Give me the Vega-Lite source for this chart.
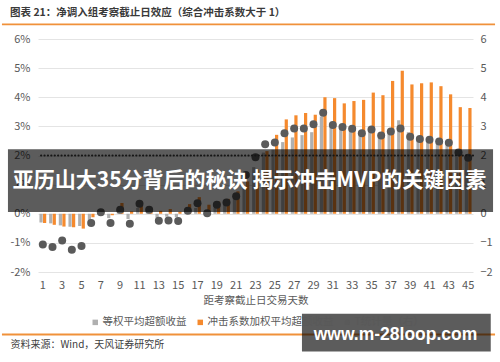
{
  "$schema": "https://vega.github.io/schema/vega-lite/v6.json",
  "width": 435,
  "height": 233,
  "autosize": {"type": "none"},
  "padding": {"left": 38, "top": 39, "right": 27, "bottom": 90},
  "background": "white",
  "config": {"font": "Noto Sans CJK SC", "view": {"stroke": null}},
  "title": {
    "text": "图表 21：净调入组考察截止日效应（综合冲击系数大于 1）",
    "anchor": "start",
    "frame": "group",
    "dx": -28,
    "offset": 5,
    "fontSize": 10.5,
    "fontWeight": "bold",
    "color": "#3a3a3a"
  },
  "data": {
    "values": [
      {"d":1,"s":"等权平均超额收益","v":-0.30},{"d":2,"s":"等权平均超额收益","v":-0.33},{"d":3,"s":"等权平均超额收益","v":-0.40},{"d":4,"s":"等权平均超额收益","v":-0.45},{"d":5,"s":"等权平均超额收益","v":-0.42},
      {"d":6,"s":"等权平均超额收益","v":-0.30},{"d":7,"s":"等权平均超额收益","v":0.02},{"d":8,"s":"等权平均超额收益","v":-0.15},{"d":9,"s":"等权平均超额收益","v":0.15},{"d":10,"s":"等权平均超额收益","v":-0.18},
      {"d":11,"s":"等权平均超额收益","v":0.20},{"d":12,"s":"等权平均超额收益","v":0.10},{"d":13,"s":"等权平均超额收益","v":-0.14},{"d":14,"s":"等权平均超额收益","v":-0.10},{"d":15,"s":"等权平均超额收益","v":-0.12},
      {"d":16,"s":"等权平均超额收益","v":0.05},{"d":17,"s":"等权平均超额收益","v":0.20},{"d":18,"s":"等权平均超额收益","v":-0.05},{"d":19,"s":"等权平均超额收益","v":0.20},{"d":20,"s":"等权平均超额收益","v":0.30},
      {"d":21,"s":"等权平均超额收益","v":0.50},{"d":22,"s":"等权平均超额收益","v":0.95},{"d":23,"s":"等权平均超额收益","v":1.60},{"d":24,"s":"等权平均超额收益","v":2.10},{"d":25,"s":"等权平均超额收益","v":2.20},
      {"d":26,"s":"等权平均超额收益","v":2.46},{"d":27,"s":"等权平均超额收益","v":2.62},{"d":28,"s":"等权平均超额收益","v":2.70},{"d":29,"s":"等权平均超额收益","v":2.80},{"d":30,"s":"等权平均超额收益","v":3.34},
      {"d":31,"s":"等权平均超额收益","v":3.00},{"d":32,"s":"等权平均超额收益","v":2.95},{"d":33,"s":"等权平均超额收益","v":2.85},{"d":34,"s":"等权平均超额收益","v":2.70},{"d":35,"s":"等权平均超额收益","v":2.80},
      {"d":36,"s":"等权平均超额收益","v":2.60},{"d":37,"s":"等权平均超额收益","v":2.84},{"d":38,"s":"等权平均超额收益","v":3.21},{"d":39,"s":"等权平均超额收益","v":2.80},{"d":40,"s":"等权平均超额收益","v":2.50},
      {"d":41,"s":"等权平均超额收益","v":2.45},{"d":42,"s":"等权平均超额收益","v":2.42},{"d":43,"s":"等权平均超额收益","v":2.35},{"d":44,"s":"等权平均超额收益","v":1.95},{"d":45,"s":"等权平均超额收益","v":1.85},

      {"d":1,"s":"冲击系数加权平均超额收益","v":-0.32},{"d":2,"s":"冲击系数加权平均超额收益","v":-0.38},{"d":3,"s":"冲击系数加权平均超额收益","v":-0.44},{"d":4,"s":"冲击系数加权平均超额收益","v":-0.46},{"d":5,"s":"冲击系数加权平均超额收益","v":-0.51},
      {"d":6,"s":"冲击系数加权平均超额收益","v":-0.12},{"d":7,"s":"冲击系数加权平均超额收益","v":0.04},{"d":8,"s":"冲击系数加权平均超额收益","v":-0.05},{"d":9,"s":"冲击系数加权平均超额收益","v":0.37},{"d":10,"s":"冲击系数加权平均超额收益","v":0.08},
      {"d":11,"s":"冲击系数加权平均超额收益","v":0.42},{"d":12,"s":"冲击系数加权平均超额收益","v":0.14},{"d":13,"s":"冲击系数加权平均超额收益","v":0.10},{"d":14,"s":"冲击系数加权平均超额收益","v":0.16},{"d":15,"s":"冲击系数加权平均超额收益","v":0.07},
      {"d":16,"s":"冲击系数加权平均超额收益","v":0.33},{"d":17,"s":"冲击系数加权平均超额收益","v":0.57},{"d":18,"s":"冲击系数加权平均超额收益","v":0.31},{"d":19,"s":"冲击系数加权平均超额收益","v":0.42},{"d":20,"s":"冲击系数加权平均超额收益","v":0.51},
      {"d":21,"s":"冲击系数加权平均超额收益","v":0.77},{"d":22,"s":"冲击系数加权平均超额收益","v":1.11},{"d":23,"s":"冲击系数加权平均超额收益","v":1.52},{"d":24,"s":"冲击系数加权平均超额收益","v":2.15},{"d":25,"s":"冲击系数加权平均超额收益","v":2.71},
      {"d":26,"s":"冲击系数加权平均超额收益","v":3.24},{"d":27,"s":"冲击系数加权平均超额收益","v":3.38},{"d":28,"s":"冲击系数加权平均超额收益","v":3.46},{"d":29,"s":"冲击系数加权平均超额收益","v":3.40},{"d":30,"s":"冲击系数加权平均超额收益","v":4.00},
      {"d":31,"s":"冲击系数加权平均超额收益","v":3.97},{"d":32,"s":"冲击系数加权平均超额收益","v":3.79},{"d":33,"s":"冲击系数加权平均超额收益","v":3.87},{"d":34,"s":"冲击系数加权平均超额收益","v":3.91},{"d":35,"s":"冲击系数加权平均超额收益","v":4.16},
      {"d":36,"s":"冲击系数加权平均超额收益","v":4.07},{"d":37,"s":"冲击系数加权平均超额收益","v":4.56},{"d":38,"s":"冲击系数加权平均超额收益","v":4.91},{"d":39,"s":"冲击系数加权平均超额收益","v":4.44},{"d":40,"s":"冲击系数加权平均超额收益","v":4.48},
      {"d":41,"s":"冲击系数加权平均超额收益","v":4.51},{"d":42,"s":"冲击系数加权平均超额收益","v":4.38},{"d":43,"s":"冲击系数加权平均超额收益","v":4.10},{"d":44,"s":"冲击系数加权平均超额收益","v":3.66},{"d":45,"s":"冲击系数加权平均超额收益","v":3.63},

      {"d":1,"s":"T统计量（右）","v":-1.06},{"d":2,"s":"T统计量（右）","v":-1.14},{"d":3,"s":"T统计量（右）","v":-0.92},{"d":4,"s":"T统计量（右）","v":-1.24},{"d":5,"s":"T统计量（右）","v":-1.11},
      {"d":6,"s":"T统计量（右）","v":-0.32},{"d":7,"s":"T统计量（右）","v":0.05},{"d":8,"s":"T统计量（右）","v":-0.32},{"d":9,"s":"T统计量（右）","v":0.14},{"d":10,"s":"T统计量（右）","v":-0.34},
      {"d":11,"s":"T统计量（右）","v":0.34},{"d":12,"s":"T统计量（右）","v":0.14},{"d":13,"s":"T统计量（右）","v":-0.24},{"d":14,"s":"T统计量（右）","v":-0.23},{"d":15,"s":"T统计量（右）","v":-0.25},
      {"d":16,"s":"T统计量（右）","v":0.10},{"d":17,"s":"T统计量（右）","v":0.36},{"d":18,"s":"T统计量（右）","v":0.02},{"d":19,"s":"T统计量（右）","v":0.31},{"d":20,"s":"T统计量（右）","v":0.39},
      {"d":21,"s":"T统计量（右）","v":0.60},{"d":22,"s":"T统计量（右）","v":1.33},{"d":23,"s":"T统计量（右）","v":1.94},{"d":24,"s":"T统计量（右）","v":2.39},{"d":25,"s":"T统计量（右）","v":2.45},
      {"d":26,"s":"T统计量（右）","v":2.76},{"d":27,"s":"T统计量（右）","v":2.93},{"d":28,"s":"T统计量（右）","v":2.93},{"d":29,"s":"T统计量（右）","v":3.07},{"d":30,"s":"T统计量（右）","v":3.47},
      {"d":31,"s":"T统计量（右）","v":3.05},{"d":32,"s":"T统计量（右）","v":2.98},{"d":33,"s":"T统计量（右）","v":2.92},{"d":34,"s":"T统计量（右）","v":2.76},{"d":35,"s":"T统计量（右）","v":2.89},
      {"d":36,"s":"T统计量（右）","v":2.69},{"d":37,"s":"T统计量（右）","v":2.82},{"d":38,"s":"T统计量（右）","v":2.93},{"d":39,"s":"T统计量（右）","v":2.64},{"d":40,"s":"T统计量（右）","v":2.57},
      {"d":41,"s":"T统计量（右）","v":2.54},{"d":42,"s":"T统计量（右）","v":2.48},{"d":43,"s":"T统计量（右）","v":2.44},{"d":44,"s":"T统计量（右）","v":2.10},{"d":45,"s":"T统计量（右）","v":1.92}
    ]
  },
  "layer": [
    {
      "transform": [{"filter": "datum.s !== 'T统计量（右）'"}],
      "mark": {"type": "bar"},
      "encoding": {
        "x": {
          "field": "d", "type": "ordinal",
          "scale": {"paddingInner": 0.3, "paddingOuter": 0.15},
          "axis": {
            "orient": "bottom", "labelAngle": 0,
            "labelExpr": "datum.value % 2 === 1 ? datum.label : ''",
            "ticks": false, "domain": false, "grid": false,
            "labelFontSize": 11, "labelColor": "#595959", "labelPadding": 7,
            "title": "距考察截止日交易天数", "titleFontSize": 10.5, "titleFontWeight": "normal",
            "titleColor": "#595959", "titlePadding": 5
          }
        },
        "xOffset": {
          "field": "s", "type": "nominal",
          "scale": {"domain": ["等权平均超额收益", "冲击系数加权平均超额收益"], "paddingInner": 0.1}
        },
        "y": {
          "field": "v", "type": "quantitative",
          "scale": {"domain": [-2, 6], "nice": false},
          "axis": {
            "orient": "left", "values": [-2, -1, 0, 1, 2, 3, 4, 5, 6],
            "labelExpr": "datum.value + '%'",
            "grid": true, "gridColor": "#e4e4e4", "domain": false, "ticks": false,
            "labelPadding": 8, "labelFontSize": 11, "labelColor": "#595959", "title": null
          }
        },
        "y2": {"datum": 0},
        "color": {
          "field": "s", "type": "nominal",
          "scale": {"domain": ["等权平均超额收益", "冲击系数加权平均超额收益", "T统计量（右）"], "range": ["#B0B0B0", "#F58A2E", "#5A5A5A"]},
          "legend": {
            "orient": "none", "legendX": 52, "legendY": 278, "direction": "horizontal", "columns": 3,
            "title": null, "labelFontSize": 10.5, "labelColor": "#595959", "symbolSize": 30,
            "columnPadding": 8, "labelOffset": 2, "symbolStrokeWidth": 0
          }
        }
      }
    },
    {
      "transform": [{"filter": "datum.s === 'T统计量（右）'"}],
      "mark": {"type": "point", "filled": true, "size": 64, "opacity": 1},
      "encoding": {
        "x": {
          "field": "d", "type": "ordinal",
          "scale": {"paddingInner": 0.3, "paddingOuter": 0.15},
          "axis": {"orient": "top", "labels": false, "ticks": false, "grid": false, "domain": true, "domainColor": "#F0913A", "domainOpacity": 0, "domainWidth": 1.8, "offset": 15, "title": null}
        },
        "y": {
          "field": "v", "type": "quantitative",
          "scale": {"domain": [-2, 6], "nice": false},
          "axis": {
            "orient": "right", "values": [-2, -1, 0, 1, 2, 3, 4, 5, 6],
            "grid": false, "domain": false, "ticks": false,
            "labelPadding": 7, "labelFontSize": 11, "labelColor": "#595959", "title": null
          }
        },
        "color": {
          "field": "s", "type": "nominal",
          "scale": {"domain": ["等权平均超额收益", "冲击系数加权平均超额收益", "T统计量（右）"], "range": ["#B0B0B0", "#F58A2E", "#5A5A5A"]},
          "legend": {
            "orient": "none", "legendX": 52, "legendY": 278, "direction": "horizontal", "columns": 3,
            "title": null, "labelFontSize": 10.5, "labelColor": "#595959", "symbolSize": 30,
            "columnPadding": 8, "labelOffset": 2, "symbolStrokeWidth": 0
          }
        },
        "shape": {
          "field": "s", "type": "nominal",
          "scale": {"domain": ["等权平均超额收益", "冲击系数加权平均超额收益", "T统计量（右）"], "range": ["square", "square", "circle"]},
          "legend": {
            "orient": "none", "legendX": 52, "legendY": 278, "direction": "horizontal", "columns": 3,
            "title": null, "labelFontSize": 10.5, "labelColor": "#595959", "symbolSize": 30,
            "columnPadding": 8, "labelOffset": 2, "symbolStrokeWidth": 0
          }
        }
      }
    },
    {
      "data": {"values": [{}]},
      "mark": {"type": "rule", "strokeDash": [0.1, 3.3], "strokeCap": "round", "strokeWidth": 2.2, "color": "#3d3d3d"},
      "encoding": {"y": {"datum": 2, "type": "quantitative", "scale": {"domain": [-2, 6], "nice": false}, "axis": null}}
    },
    {
      "transform": [{"filter": "datum.s === 'T统计量（右）'"}],
      "mark": {"type": "tick", "opacity": 0},
      "encoding": {
        "x": {
          "field": "d", "type": "ordinal",
          "scale": {"paddingInner": 0.3, "paddingOuter": 0.15},
          "axis": {
            "orient": "bottom", "labels": false, "ticks": false, "grid": false,
            "domain": true, "domainColor": "#F0913A", "domainOpacity": 0, "domainWidth": 1.8, "offset": 62.5,
            "title": "资料来源：Wind，天风证券研究所", "titleX": -28, "titleAlign": "left", "titleAnchor": "start",
            "titleFontSize": 10, "titleFontWeight": "normal", "titleColor": "#404040", "titlePadding": 5
          }
        }
      }
    },
    {
      "data": {"values": [{"y": 6.505}, {"y": -4.146}]},
      "mark": {"type": "rule", "color": "#F0913A", "strokeWidth": 1.8, "xOffset": -37.5, "x2Offset": 23.5},
      "encoding": {
        "x": {"datum": 1, "type": "ordinal", "bandPosition": 0, "axis": null},
        "x2": {"datum": 45, "bandPosition": 1},
        "y": {"field": "y", "type": "quantitative", "scale": {"domain": [-2, 6], "nice": false}, "axis": null}
      }
    },
    {
      "data": {"values": [{}]},
      "mark": {"type": "rect", "color": "#000000", "opacity": 0.64, "xOffset": -31.5, "x2Offset": 21.5},
      "encoding": {
        "x": {"datum": 1, "type": "ordinal", "bandPosition": 0, "axis": null},
        "x2": {"datum": 45, "bandPosition": 1},
        "y": {"datum": 2.216, "type": "quantitative", "scale": {"domain": [-2, 6], "nice": false}, "axis": null},
        "y2": {"datum": 0.058}
      }
    },
    {
      "data": {"values": [{}]},
      "mark": {"type": "text", "text": "亚历山大35分背后的秘诀 揭示冲击MVP的关键因素", "color": "#ffffff", "fontSize": 21, "fontWeight": "bold", "font": "Noto Sans CJK SC", "dx": -6, "baseline": "middle", "align": "center"},
      "encoding": {
        "y": {"datum": 1.12, "type": "quantitative", "scale": {"domain": [-2, 6], "nice": false}, "axis": null}
      }
    },
    {
      "data": {"values": [{}]},
      "mark": {"type": "rect", "color": "#000000", "opacity": 0.64, "xOffset": 1.5, "x2Offset": 19.2},
      "encoding": {
        "x": {"datum": 28, "type": "ordinal", "bandPosition": 0, "axis": null},
        "x2": {"datum": 45, "bandPosition": 1},
        "y": {"datum": -3.43, "type": "quantitative", "scale": {"domain": [-2, 6], "nice": false}, "axis": null},
        "y2": {"datum": -4.73}
      }
    },
    {
      "data": {"values": [{}]},
      "mark": {"type": "text", "text": "www.m-28loop.com", "color": "#ffffff", "fontSize": 17.5, "fontWeight": "bold", "font": "Liberation Sans", "dx": 140, "baseline": "alphabetic", "align": "center"},
      "encoding": {
        "y": {"datum": -4.35, "type": "quantitative", "scale": {"domain": [-2, 6], "nice": false}, "axis": null}
      }
    }
  ],
  "resolve": {"scale": {"y": "shared"}, "axis": {"x": "independent", "y": "independent"}}
}
